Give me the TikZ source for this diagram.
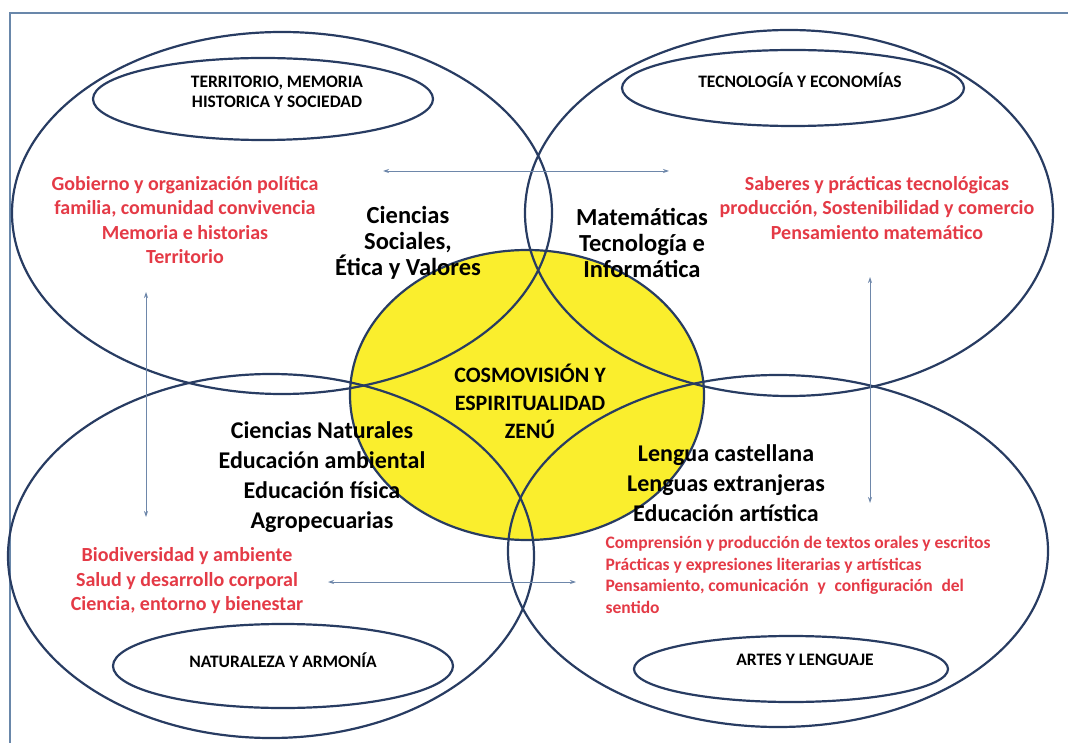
\documentclass[tikz,border=0pt]{standalone}
\usepackage{fontspec}
\setmainfont{Carlito}
\usepackage{xcolor}
\usetikzlibrary{arrows.meta,shapes.geometric}
\definecolor{ringblue}{RGB}{40,60,98}
\definecolor{linkgray}{RGB}{110,135,170}
\definecolor{framegray}{RGB}{105,135,170}
\definecolor{areared}{RGB}{228,58,70}
\definecolor{zenuyellow}{RGB}{250,238,45}

\begin{document}
\begin{tikzpicture}[x=1pt,y=-1pt,>={Stealth[length=6pt,width=4pt]},
  ring/.style={ellipse,draw=ringblue,line width=2.2pt,inner sep=0pt},
  title/.style={font=\bfseries\fontsize{17.5}{20}\selectfont,align=center},
  subject/.style={font=\bfseries\fontsize{24}{30}\selectfont,align=center},
  area/.style={font=\bfseries\fontsize{20}{24.5}\selectfont,text=areared,align=center},
  link/.style={<->,draw=linkgray,line width=0.8pt}]
\useasboundingbox (0,0) rectangle (1068,743);
\draw[framegray,line width=2.5pt] (10,743) -- (10,13) -- (1068,13);
\node[ring,fill=zenuyellow,minimum width=354pt,minimum height=290pt] (core) at (527,395) {};
\node[ring,minimum width=540pt,minimum height=362pt] (territorio) at (282,213) {};
\node[ring,minimum width=528pt,minimum height=366pt] (tecnologia) at (789,213) {};
\node[ring,minimum width=526pt,minimum height=364pt] (naturaleza) at (271,556) {};
\node[ring,minimum width=540pt,minimum height=352pt] (artes) at (778,551) {};
\node[ring,minimum width=340pt,minimum height=82pt] (territorioring) at (263,99) {};
\node[ring,minimum width=342pt,minimum height=76pt] (tecnologiaring) at (793,88) {};
\node[ring,minimum width=340pt,minimum height=84pt] (naturalezaring) at (283,666) {};
\node[ring,minimum width=314pt,minimum height=66pt] (artesring) at (791,669) {};
\node[title] (territoriotitle) at (277,92) {TERRITORIO, MEMORIA\\HISTORICA Y SOCIEDAD};
\node[title] (tecnologiatitle) at (800,80) {TECNOLOGÍA Y ECONOMÍAS};
\node[title] (naturalezatitle) at (283,660) {NATURALEZA Y ARMONÍA};
\node[title] (artestitle) at (805,660) {ARTES Y LENGUAJE};
\coordinate (topL) at (383,171);
\coordinate (topR) at (669,171);
\coordinate (leftT) at (146,292);
\coordinate (leftB) at (146,517);
\coordinate (rightT) at (870,277);
\coordinate (rightB) at (870,503);
\coordinate (botL) at (328,582);
\coordinate (botR) at (576,582);
\draw[link] (topL) -- (topR);
\draw[link] (leftT) -- (leftB);
\draw[link] (rightT) -- (rightB);
\draw[link] (botL) -- (botR);
\node[area] (territorioareas) at (185,220) {Gobierno y organización política\\familia, comunidad convivencia\\Memoria e historias\\Territorio};
\node[area] (tecnologiaareas) at (877,208) {Saberes y prácticas tecnológicas\\producción, Sostenibilidad y comercio\\Pensamiento matemático};
\node[area] (naturalezaareas) at (187,581) {Biodiversidad y ambiente\\Salud y desarrollo corporal\\Ciencia, entorno y bienestar};
\node[area,font=\bfseries\fontsize{17.5}{21.5}\selectfont,align=left,anchor=west] (artesareas) at (602,575) {Comprensión y producción de textos orales y escritos\\Prácticas y expresiones literarias y artísticas\\Pensamiento, comunicación\enspace y\enspace configuración\enspace del\\sentido};
\node[subject,font=\bfseries\fontsize{24.5}{26}\selectfont] (sociales) at (408,243) {Ciencias\\Sociales,\\Ética y Valores};
\node[subject,font=\bfseries\fontsize{24.5}{26}\selectfont] (matematicas) at (642,243) {Matemáticas\\Tecnología e\\Informática};
\node[subject] (naturales) at (322,477) {Ciencias Naturales\\Educación ambiental\\Educación física\\Agropecuarias};
\node[subject] (lengua) at (726,483) {Lengua castellana\\Lenguas extranjeras\\Educación artística};
\node[subject,font=\bfseries\fontsize{22}{28}\selectfont] (cosmo) at (530,401) {COSMOVISIÓN Y\\ESPIRITUALIDAD\\ZENÚ};
\end{tikzpicture}
\end{document}
